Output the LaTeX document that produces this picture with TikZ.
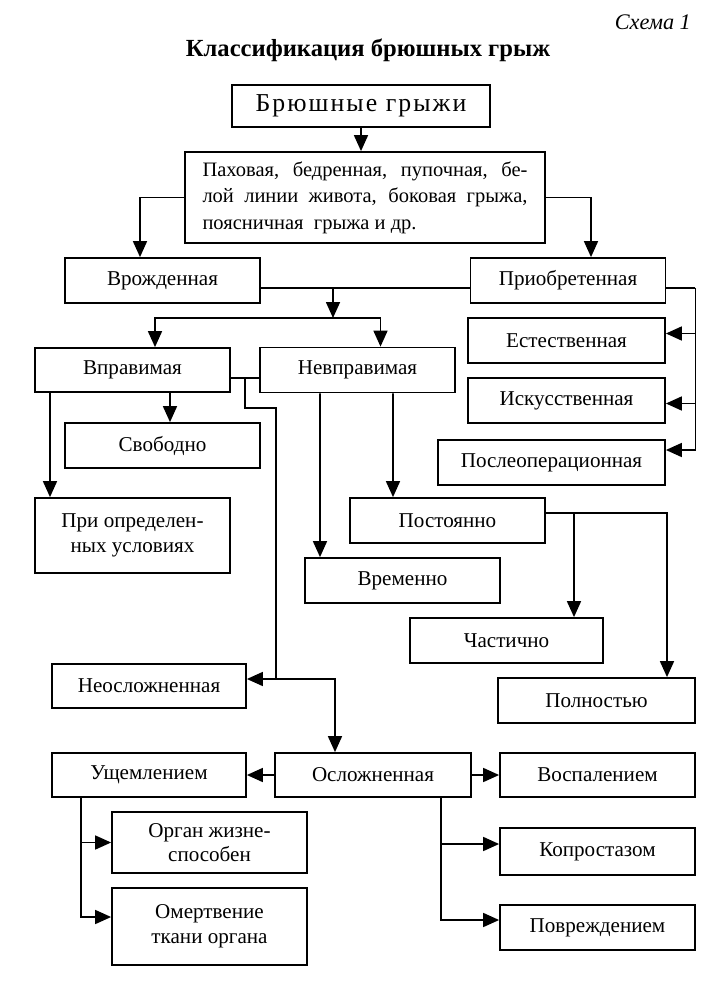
\documentclass[tikz,border=0pt]{standalone}
\usepackage{fontspec}
\setmainfont{Liberation Serif}
\usetikzlibrary{
    arrows.meta,
    positioning,
    calc
}

\begin{document}
\begin{tikzpicture}[
        block/.style={rectangle, draw, line width=1.5pt, minimum width=5.85cm, minimum height=1.35cm, inner sep=2pt, align=center, font=\fontsize{18}{21}\selectfont},
        arrow/.style={-{Triangle[length=0.48cm,width=0.42cm]}, line width=1.4pt},
        line/.style={line width=1.4pt}
    ]
        \useasboundingbox (0,0) rectangle (21.03,-29.97);

        % Heading
        \node[anchor=east, font=\fontsize{19}{22}\selectfont\itshape] (scheme) at (20.85,-0.66) {Схема 1};
        \node[font=\fontsize{21}{24}\selectfont\bfseries] (title) at (11.04,-1.5) {Классификация брюшных грыж};

        % Root
        \node[block, minimum width=7.74cm, minimum height=1.26cm, font=\fontsize{22}{24}\selectfont\addfontfeature{LetterSpace=8}] (hernia) at (10.83,-3.18) {Брюшные грыжи};
        \node[block, minimum width=10.8cm, minimum height=2.73cm, align=left, font=\fontsize{17.5}{22.5}\selectfont] (types) at (10.95,-5.925) {\makebox[9.75cm][s]{Паховая, бедренная, пупочная, бе-}\\\makebox[9.75cm][s]{лой линии живота, боковая грыжа,}\\поясничная\ \ грыжа и др.};

        % Origin
        \node[block] (congen) at (4.875,-8.415) {Врожденная};
        \node[block] (acquir) at (17.04,-8.415) {Приобретенная};
        \node[block, minimum width=5.91cm] (natural) at (16.995,-10.215) {Естественная};
        \node[block, minimum width=5.91cm] (artific) at (16.995,-12.015) {Искусственная};
        \node[block, minimum width=6.81cm] (postop) at (16.545,-13.875) {Послеоперационная};

        % Reducibility
        \node[block, minimum height=1.32cm] (reduc) at (3.975,-11.1) {Вправимая};
        \node[block] (irreduc) at (10.725,-11.1) {Невправимая};
        \node[block] (free) at (4.875,-13.365) {Свободно};
        \node[block, minimum height=2.25cm] (certain) at (3.975,-16.065) {При определен-\\ных условиях};
        \node[block] (perman) at (13.425,-15.615) {Постоянно};
        \node[block] (tempor) at (12.075,-17.415) {Временно};
        \node[block, minimum width=5.79cm] (partial) at (15.195,-19.215) {Частично};
        \node[block, minimum width=5.91cm] (complete) at (17.895,-21.015) {Полностью};

        % Complications
        \node[block, minimum width=5.82cm, minimum height=1.32cm] (uncompl) at (4.47,-20.58) {Неосложненная};
        \node[block, minimum width=5.88cm, minimum height=1.32cm] (compl) at (11.19,-23.25) {Осложненная};
        \node[block, minimum width=5.82cm, minimum height=1.32cm] (strang) at (4.47,-23.25) {Ущемлением};
        \node[block, minimum height=1.32cm] (inflam) at (17.925,-23.25) {Воспалением};
        \node[block, minimum height=1.83cm] (viable) at (6.285,-25.275) {Орган жизне-\\способен};
        \node[block, minimum height=2.31cm] (necros) at (6.285,-27.795) {Омертвение\\ткани органа};
        \node[block, minimum height=1.41cm] (coprost) at (17.925,-25.545) {Копростазом};
        \node[block] (injury) at (17.925,-27.825) {Повреждением};

        % Junctions
        \coordinate (mid) at (9.99,-8.64);
        \coordinate (fork) at (9.99,-9.54);
        \coordinate (j1) at (7.35,-11.34);
        \coordinate (j2) at (8.28,-12.24);
        \coordinate (j3) at (8.28,-20.37);

        \draw[arrow] (hernia) -- (hernia |- types.north);
        \draw[arrow] (types.west) -| ([xshift=-0.675cm]congen.north);
        \draw[arrow] (types.east) -| ([xshift=0.69cm]acquir.north);

        \draw[line] ([yshift=-0.22cm]congen.east) -- ([yshift=-0.22cm]acquir.west);
        \draw[arrow] (mid) -- (fork);
        \draw[arrow] (fork) -| ([xshift=0.675cm]reduc.north);
        \draw[arrow] (fork) -| ([xshift=0.69cm]irreduc.north);

        \draw[line] ([yshift=-0.22cm]acquir.east) -- ++(0.87,0) coordinate (rtop);
        \draw[arrow] (rtop) |- ([yshift=0.21cm]natural.east);
        \draw[arrow] (rtop) |- ([yshift=-0.09cm]artific.east);
        \draw[arrow] (rtop) |- ([yshift=0.375cm]postop.east);

        \draw[line] ([yshift=-0.24cm]reduc.east) -- ([yshift=-0.24cm]irreduc.west);
        \draw[arrow] ([xshift=1.125cm]reduc.south) -- ([xshift=0.225cm]free.north);
        \draw[arrow] ([xshift=-2.475cm]reduc.south) -- ([xshift=-2.475cm]certain.north);
        \draw[arrow] ([xshift=-1.125cm]irreduc.south) -- ([xshift=-2.475cm]tempor.north);
        \draw[arrow] ([xshift=1.065cm]irreduc.south) -- ([xshift=-1.635cm]perman.north);
        \draw[arrow] ([yshift=0.225cm]perman.east) -| ([xshift=2.025cm]partial.north);
        \draw[arrow] ([yshift=0.225cm]perman.east) -| ([xshift=2.115cm]complete.north);

        \draw[line] (j1) |- (j2) -- (j3);
        \draw[arrow] (j3) -- (j3 -| uncompl.east);
        \draw[arrow] (j3) -| ([xshift=-1.14cm]compl.north);

        \draw[arrow] (compl) -- (strang);
        \draw[arrow] (compl) -- (inflam);
        \draw[arrow] ([xshift=-2.04cm]strang.south) |- (viable.west);
        \draw[arrow] ([xshift=-2.04cm]strang.south) |- ([yshift=0.285cm]necros.west);
        \draw[arrow] ([xshift=2.04cm]compl.south) |- ([yshift=0.225cm]coprost.west);
        \draw[arrow] ([xshift=2.04cm]compl.south) |- ([yshift=0.225cm]injury.west);
    \end{tikzpicture}
\end{document}
